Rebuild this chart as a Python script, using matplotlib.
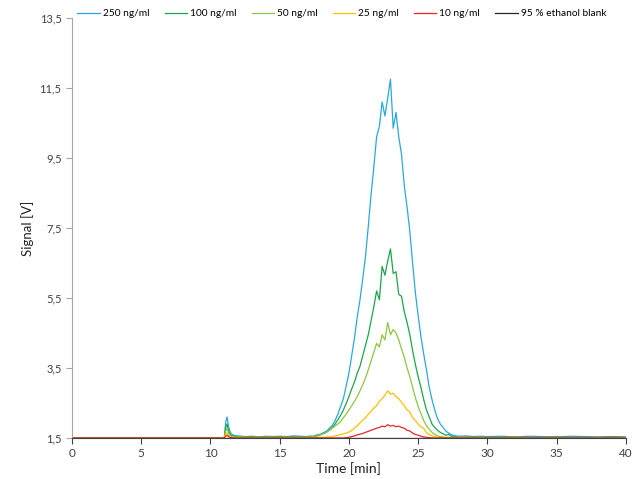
import matplotlib
matplotlib.use("Agg")
import matplotlib.pyplot as plt
from matplotlib.ticker import FuncFormatter

plt.rcParams['font.family'] = ['Lato', 'DejaVu Sans']

# time axis [min]
time = [0.0, 5.0, 10.0, 11.0, 11.1, 11.2, 11.3, 11.4, 11.5, 11.7, 12.0, 12.5, 13.0, 13.5,
        14.0, 14.5, 15.0, 15.5, 16.0, 16.5,
        17.0, 17.2, 17.4, 17.6, 17.8, 18.0, 18.2, 18.4, 18.6, 18.8,
        19.0, 19.2, 19.4, 19.6, 19.8, 20.0, 20.2, 20.4, 20.6, 20.8,
        21.0, 21.2, 21.4, 21.6, 21.8, 22.0, 22.2, 22.4, 22.6, 22.8,
        23.0, 23.2, 23.4, 23.6, 23.8, 24.0, 24.2, 24.4, 24.6, 24.8,
        25.0, 25.2, 25.4, 25.6, 25.8, 26.0, 26.2, 26.4, 26.6, 26.8,
        27.0, 27.2, 27.4, 27.6, 27.8, 28.0,
        28.5, 29.0, 29.5, 30.0, 31.0, 32.0, 33.0, 34.0, 35.0, 36.0, 37.0, 38.0, 39.0, 40.0]

sig_250 = [1.50, 1.50, 1.50, 1.50, 1.95, 2.10, 1.85, 1.70, 1.62, 1.57, 1.56, 1.54, 1.55, 1.53,
           1.55, 1.54, 1.55, 1.54, 1.56, 1.55,
           1.54, 1.56, 1.55, 1.58, 1.60, 1.62, 1.66, 1.70, 1.78, 1.86,
           2.00, 2.18, 2.40, 2.62, 2.98, 3.35, 3.85, 4.35, 4.95, 5.45,
           6.05, 6.70, 7.55, 8.45, 9.25, 10.10, 10.40, 11.10, 10.70, 11.20,
           11.75, 10.35, 10.80, 10.10, 9.60, 8.70, 8.10, 7.40, 6.50, 5.65,
           5.00, 4.40, 3.90, 3.45, 2.95, 2.60, 2.30, 2.05, 1.90, 1.80,
           1.70, 1.64, 1.60, 1.57, 1.56, 1.55,
           1.56, 1.54, 1.55, 1.54, 1.55, 1.53, 1.55, 1.54, 1.53, 1.55, 1.54, 1.53, 1.54, 1.53]

sig_100 = [1.50, 1.50, 1.50, 1.50, 1.80, 1.90, 1.72, 1.62, 1.57, 1.55, 1.54, 1.53, 1.54, 1.53,
           1.53, 1.54, 1.53, 1.53, 1.54, 1.53,
           1.52, 1.53, 1.54, 1.55, 1.57, 1.60, 1.63, 1.67, 1.73, 1.80,
           1.90, 2.02, 2.15, 2.30, 2.48, 2.68, 2.90, 3.10, 3.35, 3.55,
           3.85, 4.15, 4.45, 4.85, 5.25, 5.70, 5.45, 6.40, 6.15, 6.55,
           6.90, 6.20, 6.25, 5.60, 5.55, 5.10, 4.80, 4.45, 4.00, 3.60,
           3.25, 2.95, 2.60, 2.30, 2.10, 1.90, 1.80, 1.72, 1.66, 1.62,
           1.58, 1.60, 1.55, 1.54, 1.53, 1.52,
           1.53, 1.52, 1.53, 1.52, 1.52, 1.53, 1.52, 1.52, 1.53, 1.52, 1.52, 1.52, 1.53, 1.52]

sig_50 = [1.50, 1.50, 1.50, 1.50, 1.70, 1.78, 1.65, 1.58, 1.55, 1.53, 1.53, 1.52, 1.52, 1.52,
          1.52, 1.52, 1.52, 1.52, 1.52, 1.52,
          1.52, 1.53, 1.54, 1.56, 1.58, 1.60, 1.63, 1.67, 1.72, 1.78,
          1.84, 1.90, 1.97, 2.08, 2.18, 2.30, 2.42, 2.55, 2.68, 2.85,
          3.02, 3.22, 3.45, 3.70, 3.95, 4.20, 4.10, 4.45, 4.30, 4.80,
          4.45, 4.60, 4.50, 4.30, 4.05, 3.80, 3.50, 3.25, 2.95, 2.65,
          2.40, 2.20, 2.00, 1.85, 1.75, 1.66, 1.60, 1.56, 1.54, 1.53,
          1.52, 1.52, 1.52, 1.52, 1.52, 1.52,
          1.52, 1.51, 1.52, 1.51, 1.51, 1.52, 1.51, 1.51, 1.51, 1.51, 1.51, 1.51, 1.51, 1.51]

sig_25 = [1.50, 1.50, 1.50, 1.50, 1.60, 1.65, 1.58, 1.54, 1.52, 1.51, 1.51, 1.51, 1.51, 1.51,
          1.51, 1.51, 1.51, 1.51, 1.51, 1.51,
          1.50, 1.50, 1.51, 1.51, 1.52, 1.52, 1.52, 1.53, 1.53, 1.54,
          1.56, 1.58, 1.60, 1.62, 1.64, 1.67, 1.72, 1.78, 1.85, 1.93,
          2.01, 2.08, 2.18, 2.26, 2.36, 2.42, 2.55, 2.62, 2.72, 2.85,
          2.75, 2.78, 2.68, 2.62, 2.52, 2.42, 2.30, 2.25, 2.08, 2.00,
          1.90, 1.82, 1.78, 1.65, 1.60, 1.56, 1.54, 1.52, 1.51, 1.51,
          1.50, 1.50, 1.50, 1.50, 1.50, 1.50,
          1.50, 1.50, 1.50, 1.50, 1.50, 1.50, 1.50, 1.50, 1.50, 1.50, 1.50, 1.50, 1.50, 1.50]

sig_10 = [1.50, 1.50, 1.50, 1.50, 1.55, 1.58, 1.54, 1.52, 1.51, 1.50, 1.50, 1.50, 1.50, 1.50,
          1.50, 1.50, 1.50, 1.50, 1.50, 1.50,
          1.50, 1.50, 1.50, 1.50, 1.50, 1.50, 1.50, 1.50, 1.50, 1.50,
          1.50, 1.50, 1.50, 1.50, 1.51, 1.52, 1.54, 1.56, 1.59, 1.61,
          1.63, 1.66, 1.69, 1.72, 1.75, 1.78, 1.80, 1.84, 1.82, 1.88,
          1.84, 1.86, 1.82, 1.84, 1.80, 1.78, 1.72, 1.70, 1.64, 1.60,
          1.58, 1.55, 1.53, 1.52, 1.51, 1.50, 1.50, 1.50, 1.50, 1.50,
          1.50, 1.50, 1.50, 1.50, 1.50, 1.50,
          1.50, 1.50, 1.50, 1.50, 1.50, 1.50, 1.50, 1.50, 1.50, 1.50, 1.50, 1.50, 1.50, 1.50]

sig_blank = [1.50] * len(time)

labels = ['250 ng/ml', '100 ng/ml', '50 ng/ml', '25 ng/ml', '10 ng/ml', '95 % ethanol blank']
colors = ['#29a8e0', '#1aa64a', '#8dc63f', '#ffc000', '#e3262e', '#262626']
series = [sig_250, sig_100, sig_50, sig_25, sig_10, sig_blank]

fig = plt.figure(figsize=(6.33, 4.79), dpi=100)
ax = fig.add_axes([0.1137, 0.0856, 0.875, 0.877])

for vals, lab, col in zip(series, labels, colors):
    ax.plot(time, vals, color=col, lw=0.9, label=lab)

ax.set_xlim(0, 40)
ax.set_ylim(1.5, 13.5)
ax.set_xticks(range(0, 41, 5))
ax.set_yticks([1.5, 3.5, 5.5, 7.5, 9.5, 11.5, 13.5])
ax.yaxis.set_major_formatter(FuncFormatter(lambda v, p: ('%.1f' % v).replace('.', ',')))

for s in ['top', 'right']:
    ax.spines[s].set_visible(False)
ax.spines['left'].set_color('#a6a6a6')
ax.spines['bottom'].set_color('#404040')
ax.tick_params(axis='y', colors='#a6a6a6', labelcolor='#404040', labelsize=8, length=4)
ax.tick_params(axis='x', colors='#404040', labelcolor='#404040', labelsize=8.5, length=4)

ax.set_ylabel('Signal [V]', fontsize=9.5, color='#222222')
ax.set_xlabel('Time [min]', fontsize=10, color='#222222', labelpad=2)

fig.legend(loc='upper left', bbox_to_anchor=(0.108, 1.0), ncol=6, frameon=False,
           fontsize=7.3, handlelength=2.2, columnspacing=1.5, handletextpad=0.3)

plt.savefig('out.png', dpi=100)
